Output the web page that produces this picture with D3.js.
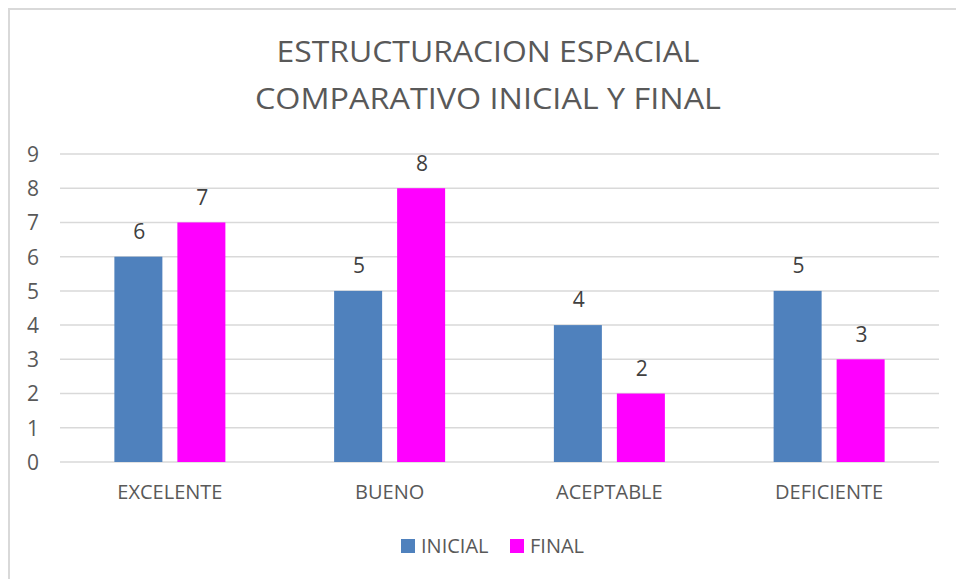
<!DOCTYPE html>
<html><head><meta charset="utf-8">
<script src="https://cdn.jsdelivr.net/npm/d3@7"></script>
<style>html,body{margin:0;padding:0;background:#fff;}svg{display:block;}</style>
</head><body>
<svg id="c" width="956" height="579"></svg>
<script>
const categories = ["EXCELENTE", "BUENO", "ACEPTABLE", "DEFICIENTE"];
const seriesNames = ["INICIAL", "FINAL"];
const inicial = [6, 5, 4, 5];
const final = [7, 8, 2, 3];
const yTicks = [0,1,2,3,4,5,6,7,8,9];
const titleLines = ["ESTRUCTURACION ESPACIAL", "COMPARATIVO INICIAL Y FINAL"];
const colors = ["#4f81bd", "#ff00ff"];

(function(){
const svg = d3.select("#c");
const font = "'Open Sans', 'Noto Sans', sans-serif";
const txt = "#595959";

// chart border
svg.append("rect").attr("x", 9).attr("y", 9).attr("width", 1000).attr("height", 1000)
  .attr("fill", "#fff").attr("stroke", "#d9d9d9").attr("stroke-width", 2);

const pLeft = 60, pRight = 939, pTop = 154, pBottom = 462;
const x0 = d3.scaleBand().domain(categories).range([pLeft, pRight]).paddingInner(0).paddingOuter(0);
const y = d3.scaleLinear().domain([0, 9]).range([pBottom, pTop]);

// title
svg.append("g").selectAll("text").data(titleLines).join("text")
  .attr("x", 488).attr("y", (d,i) => 62 + i*47)
  .attr("text-anchor", "middle").attr("font-family", font).attr("font-size", 28.5)
  .attr("fill", txt).attr("textLength", (d,i)=> i===0 ? 423 : 466).attr("lengthAdjust","spacingAndGlyphs")
  .text(d => d);

// gridlines
svg.append("g").selectAll("line").data(yTicks).join("line")
  .attr("x1", pLeft).attr("x2", pRight)
  .attr("y1", d => y(d)).attr("y2", d => y(d))
  .attr("stroke", "#d9d9d9").attr("stroke-width", 1.5);

// y axis labels
const yAxis = d3.axisLeft(y).tickValues(yTicks).tickSize(0).tickPadding(0);
const ya = svg.append("g").attr("transform", `translate(40,0)`).call(yAxis);
ya.select(".domain").remove();
ya.selectAll("text").attr("font-family", font).attr("font-size", 21).attr("fill", txt)
  .attr("text-anchor", "middle").attr("x", -7).attr("dy", "0.35em");

// x axis labels
const xAxis = d3.axisBottom(x0).tickSize(0).tickPadding(0);
const xa = svg.append("g").attr("transform", `translate(0,${pBottom})`).call(xAxis);
xa.select(".domain").remove();
xa.selectAll("text").attr("font-family", font).attr("font-size", 20).attr("fill", txt)
  .attr("y", 30).attr("dy", "0.35em");

// bars
const barW = 48, gap = 15;
const data = categories.map((c,i) => ({c, vals: [inicial[i], final[i]]}));
const x1 = d3.scaleBand().domain(seriesNames).range([0, barW*2 + gap]).paddingInner(gap/(barW+gap)).paddingOuter(0);
const groups = svg.append("g").selectAll("g").data(data).join("g")
  .attr("transform", d => `translate(${x0(d.c) + x0.bandwidth()/2 - (barW*2+gap)/2},0)`);
groups.selectAll("rect").data(d => d.vals.map((v,j)=>({v, s: seriesNames[j], j}))).join("rect")
  .attr("x", d => x1(d.s)).attr("width", x1.bandwidth())
  .attr("y", d => y(d.v)).attr("height", d => y(0) - y(d.v))
  .attr("fill", d => colors[d.j]);
groups.selectAll("text").data(d => d.vals.map((v,j)=>({v, s: seriesNames[j], j}))).join("text")
  .attr("x", d => x1(d.s) + x1.bandwidth()/2 + 1).attr("y", d => y(d.v) - 25)
  .attr("dy", "0.35em")
  .attr("text-anchor", "middle").attr("font-family", font).attr("font-size", 21).attr("fill", "#404040")
  .text(d => d.v);

// legend
const legendX = [401, 510];
const lg = svg.append("g").selectAll("g").data(seriesNames).join("g")
  .attr("transform", (d,i) => `translate(${legendX[i]},546)`);
lg.append("rect").attr("x", 0).attr("y", -7).attr("width", 14).attr("height", 14).attr("fill", (d,i)=>colors[i]);
lg.append("text").attr("x", 20).attr("y", 0).attr("dy", "0.35em").attr("font-family", font)
  .attr("font-size", 20).attr("fill", txt).text(d => d);
})();
</script>
</body></html>
